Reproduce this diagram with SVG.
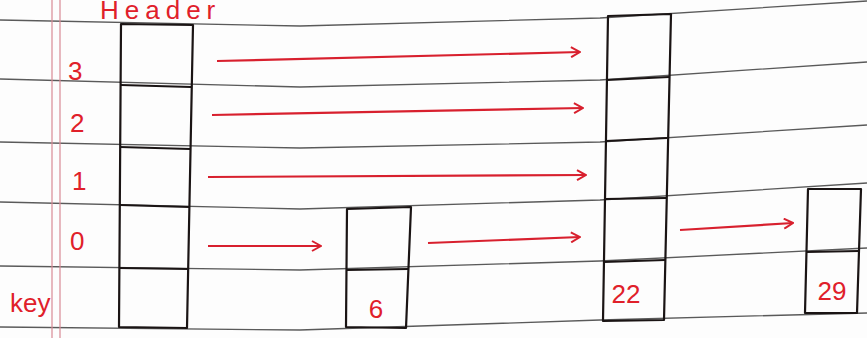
<svg xmlns="http://www.w3.org/2000/svg" width="867" height="338" viewBox="0 0 867 338">
<style>
.rule{fill:none;stroke:#5a5a5a;stroke-width:1.3}
.margin{stroke:#d98a95;stroke-width:1.2}
.box{fill:none;stroke:#1a1414;stroke-width:2.2;stroke-linejoin:round}
.div{stroke:#1a1414;stroke-width:2}
.lbl{fill:#e0202a;font-family:"Liberation Sans",sans-serif;font-size:26px}
.arr{fill:none;stroke:#d8202e;stroke-width:2.2;marker-end:url(#ah)}
</style>
<defs>
<marker id="ah" viewBox="0 0 12 12" refX="11" refY="6" markerWidth="12" markerHeight="12" markerUnits="userSpaceOnUse" orient="auto">
<path d="M2,1 L11,6 L2,11" fill="none" stroke="#d8202e" stroke-width="2"/>
</marker>
</defs>
<rect width="867" height="338" fill="#fdfdfd"/>
<g id="paper">
<polyline class="rule" points="0,20 300,26 600,18 867,1"/>
<polyline class="rule" points="0,79 300,87 600,80 867,62"/>
<polyline class="rule" points="0,142 300,148 600,142 867,125"/>
<polyline class="rule" points="0,202 300,209 600,200 867,183"/>
<polyline class="rule" points="0,266 300,270 600,261 867,248"/>
<polyline class="rule" points="0,327 300,330 600,320 867,313"/>
<line class="margin" x1="52" y1="0" x2="52" y2="338"/>
<line class="margin" x1="60" y1="0" x2="60" y2="338"/>
</g>
<text class="lbl" x="100" y="19" font-size="16" letter-spacing="6">Header</text>
<g id="levels">
<text class="lbl" x="68" y="80">3</text>
<text class="lbl" x="70" y="132">2</text>
<text class="lbl" x="72" y="190">1</text>
<text class="lbl" x="70" y="250">0</text>
<text class="lbl" x="10" y="312" font-size="28">key</text>
</g>
<g id="header">
<polygon class="box" points="121,24 193,25 187,328 119,327"/>
<line class="div" x1="121" y1="85" x2="191" y2="87"/>
<line class="div" x1="120" y1="147" x2="190" y2="149"/>
<line class="div" x1="120" y1="205" x2="189" y2="207"/>
<line class="div" x1="119" y1="268" x2="188" y2="269"/>
</g>
<g id="node6">
<polygon class="box" points="347,209 411,207 406,328 346,327"/>
<line class="div" x1="347" y1="270" x2="408" y2="269"/>
<text class="lbl" x="376" y="318" text-anchor="middle" font-size="28">6</text>
</g>
<g id="node22">
<polygon class="box" points="608,16 671,14 664,320 603,321"/>
<line class="div" x1="607" y1="80" x2="669" y2="77"/>
<line class="div" x1="606" y1="141" x2="667" y2="138"/>
<line class="div" x1="605" y1="199" x2="666" y2="198"/>
<line class="div" x1="604" y1="262" x2="665" y2="260"/>
<text class="lbl" x="626" y="303" text-anchor="middle" font-size="24">22</text>
</g>
<g id="node29">
<polygon class="box" points="808,189 861,189 857,313 805,313"/>
<line class="div" x1="807" y1="252" x2="859" y2="251"/>
<text class="lbl" x="832" y="300" text-anchor="middle" font-size="24">29</text>
</g>
<g id="connectors">
<line class="arr" x1="217" y1="61" x2="580" y2="52"/>
<line class="arr" x1="212" y1="115" x2="583" y2="108"/>
<line class="arr" x1="208" y1="177" x2="586" y2="175"/>
<line class="arr" x1="208" y1="246" x2="321" y2="246"/>
<line class="arr" x1="428" y1="243" x2="580" y2="237"/>
<line class="arr" x1="680" y1="230" x2="793" y2="223"/>
</g>
</svg>
